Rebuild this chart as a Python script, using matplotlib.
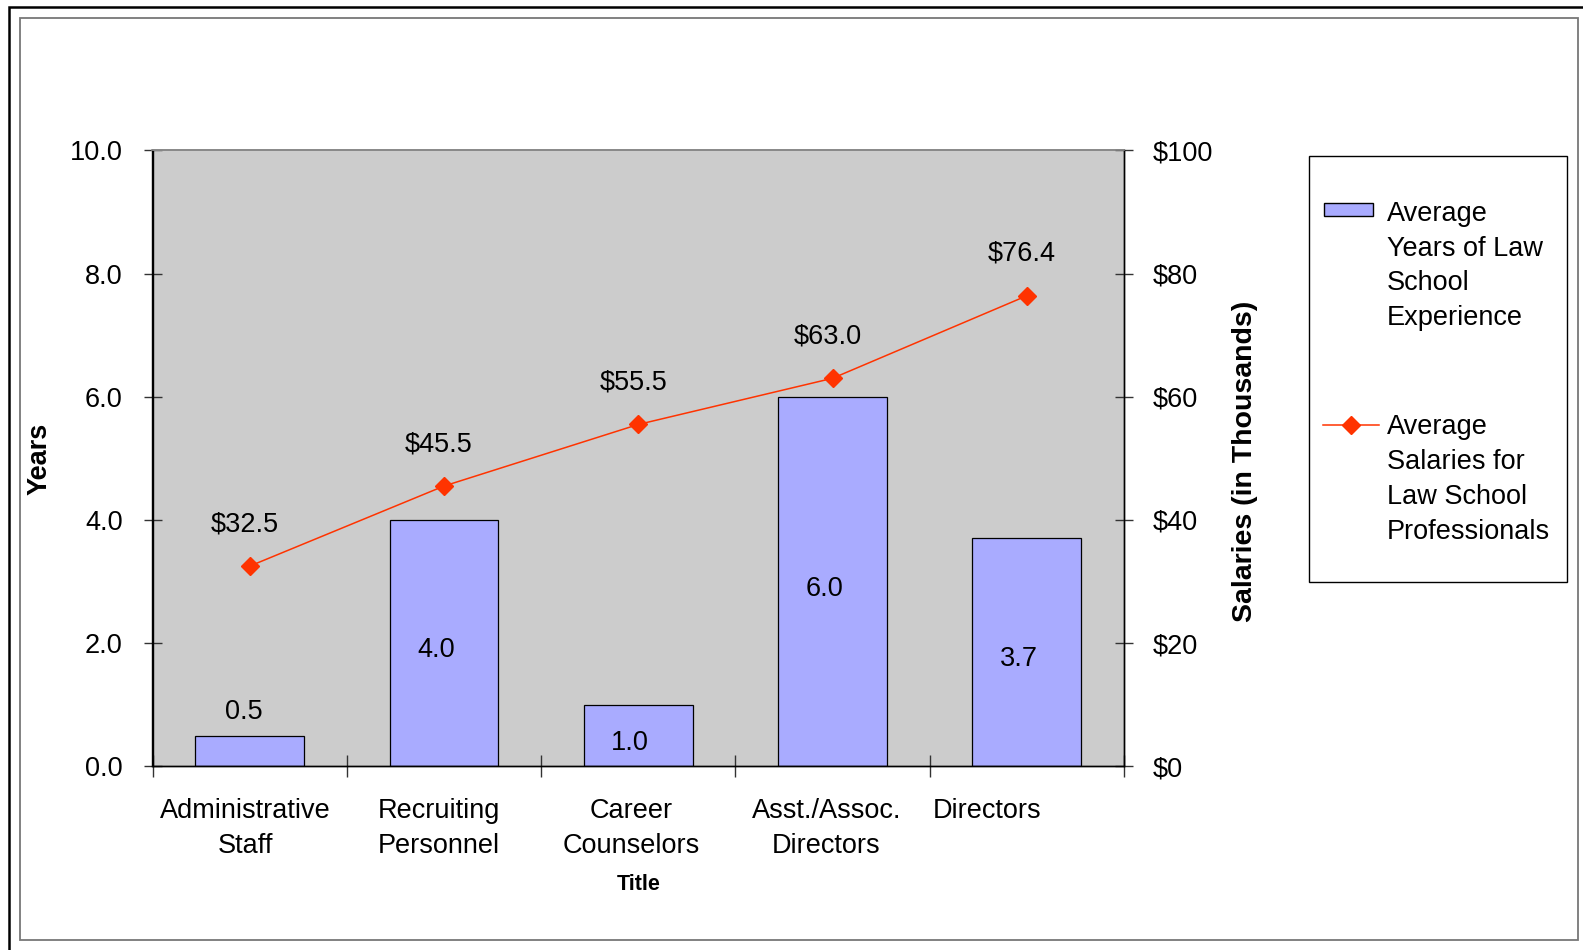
import numpy as np
import matplotlib
matplotlib.use("Agg")
import matplotlib.pyplot as plt
from matplotlib.patches import Rectangle
from matplotlib.lines import Line2D
from matplotlib.transforms import ScaledTranslation

plt.rcParams["font.family"] = ["Liberation Sans", "DejaVu Sans"]

# Data
categories = ["Administrative\nStaff", "Recruiting\nPersonnel", "Career\nCounselors",
              "Asst./Assoc.\nDirectors", "Directors"]
years = [0.5, 4.0, 1.0, 6.0, 3.7]
salaries = [32.5, 45.5, 55.5, 63.0, 76.4]
years_ticks = [0, 2, 4, 6, 8, 10]
salary_ticks = [0, 20, 40, 60, 80, 100]
bar_legend = ["Average", "Years of Law", "School", "Experience"]
line_legend = ["Average", "Salaries for", "Law School", "Professionals"]

BAR_COLOR = "#A9ABFF"
LINE_COLOR = "#FF3300"
PLOT_BG = "#CCCCCC"
FS = 19.5

W, H = 1583, 950
fig = plt.figure(figsize=(W / 100, H / 100), dpi=100)


def fx(px):
    return px / W


def fy(py):
    return 1 - py / H


# Chart frames
fig.patches.append(Rectangle((fx(9), fy(970)), fx(1600 - 9), (970 - 7) / H,
                             transform=fig.transFigure, fill=False,
                             edgecolor="black", linewidth=1.8))
fig.patches.append(Rectangle((fx(20), fy(940)), fx(1578 - 20), (940 - 18) / H,
                             transform=fig.transFigure, fill=False,
                             edgecolor="#777777", linewidth=1.3))

left, top, right, bottom = 152.5, 150.4, 1124.0, 766.3
ax1 = fig.add_axes([fx(left), fy(bottom), fx(right - left), (bottom - top) / H])
ax1.set_facecolor(PLOT_BG)
ax2 = ax1.twinx()

x = np.arange(len(categories))
ax1.bar(x, years, width=0.56, color=BAR_COLOR, edgecolor="black", linewidth=0.9, zorder=2)
ax1.set_xlim(-0.5, len(categories) - 0.5)
ax1.set_ylim(years_ticks[0], years_ticks[-1])
ax2.set_ylim(salary_ticks[0], salary_ticks[-1])

ax2.plot(x, salaries, color=LINE_COLOR, linewidth=1.1, marker="D", markersize=9.5,
         markerfacecolor=LINE_COLOR, markeredgecolor=LINE_COLOR, zorder=3)

# Value labels
for xi, v in zip(x, years):
    if v < 0.75:
        ax1.annotate(f"{v:.1f}", (xi, v), xytext=(-6, 24), textcoords="offset pixels",
                     ha="center", va="center", fontsize=FS)
    else:
        ax1.annotate(f"{v:.1f}", (xi, v / 2), xytext=(-8, -7), textcoords="offset pixels",
                     ha="center", va="center", fontsize=FS)
for xi, s in zip(x, salaries):
    ax2.annotate(f"${s:.1f}", (xi, s), xytext=(-5, 42), textcoords="offset pixels",
                 ha="center", va="center", fontsize=FS)

# Axes styling
for a in (ax1, ax2):
    a.spines["top"].set_color("#888888")
    a.spines["top"].set_linewidth(1.2)
    for side in ("left", "bottom", "right"):
        a.spines[side].set_color("black")
        a.spines[side].set_linewidth(1.0)

ax1.set_yticks(years_ticks)
ax1.set_yticklabels([f"{t:.1f}" for t in years_ticks])
ax2.set_yticks(salary_ticks)
ax2.set_yticklabels([f"${t}" for t in salary_ticks])
ax1.tick_params(axis="y", direction="inout", length=13, width=1.0, color="#333333",
                labelsize=FS, pad=15)
ax2.tick_params(axis="y", direction="inout", length=13, width=1.0, color="#333333",
                labelsize=FS, pad=14)

ax1.set_xticks(np.arange(-0.5, len(categories), 1.0))
ax1.set_xticklabels([])
ax1.set_xticks(x, minor=True)
ax1.set_xticklabels(categories, minor=True)
ax1.tick_params(axis="x", which="major", direction="inout", length=16, width=1.0,
                color="#333333")
ax1.tick_params(axis="x", which="minor", length=0, labelsize=FS, pad=23)
label_shift = [-4, -5, -7, -6, -40]
for lbl, dx in zip(ax1.get_xticklabels(minor=True), label_shift):
    lbl.set_linespacing(1.45)
    lbl.set_transform(lbl.get_transform() + ScaledTranslation(dx / 100, 0, fig.dpi_scale_trans))

ax1.set_xlabel("Title", fontsize=15.5, fontweight="bold", va="center")
ax1.xaxis.label.set_fontstretch("expanded")
ax1.xaxis.set_label_coords((639 - left) / (right - left), (bottom - 885) / (bottom - top))
ax1.set_ylabel("Years", fontsize=19.5, fontweight="bold", va="center", ha="center")
ax1.yaxis.set_label_coords((40 - left) / (right - left), (bottom - 459) / (bottom - top))
ax2.set_ylabel("Salaries (in Thousands)", fontsize=20.5, fontweight="bold",
               rotation=90, va="center", ha="center")
ax2.yaxis.set_label_coords((1245 - left) / (right - left), (bottom - 461) / (bottom - top))

# Legend box
fig.patches.append(Rectangle((fx(1309), fy(582)), fx(1567 - 1309), (582 - 156) / H,
                             transform=fig.transFigure, facecolor="white",
                             edgecolor="black", linewidth=1.0))
fig.patches.append(Rectangle((fx(1324), fy(216)), fx(1373 - 1324), (216 - 203) / H,
                             transform=fig.transFigure, facecolor=BAR_COLOR,
                             edgecolor="black", linewidth=1.0))
fig.lines.append(Line2D([fx(1323), fx(1379)], [fy(425), fy(425)], transform=fig.transFigure,
                        color=LINE_COLOR, linewidth=1.1))
fig.lines.append(Line2D([fx(1351)], [fy(425)], transform=fig.transFigure, marker="D",
                        markersize=9.5, color=LINE_COLOR, linestyle="none"))
for i, t in enumerate(bar_legend):
    fig.text(fx(1387), fy(214 + 34.7 * i), t, fontsize=FS, ha="left", va="center")
for i, t in enumerate(line_legend):
    fig.text(fx(1387), fy(427 + 35 * i), t, fontsize=FS, ha="left", va="center")

fig.savefig("out.png", dpi=100, facecolor="white")
